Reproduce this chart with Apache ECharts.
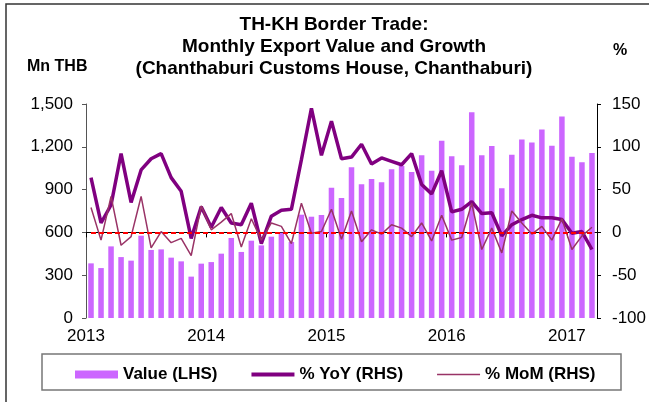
<!DOCTYPE html>
<html>
<head>
<meta charset="utf-8">
<script src="https://cdn.jsdelivr.net/npm/echarts@6/dist/echarts.min.js"></script>
<style>
  html, body { margin: 0; padding: 0; background: #fff; }
  #chart { width: 649px; height: 402px; }
</style>
</head>
<body>
<div id="chart"></div>
<script>
// months, Jan 2013 .. Mar 2017
const months = [
    '2013-01', '2013-02', '2013-03', '2013-04', '2013-05', '2013-06', '2013-07', '2013-08', '2013-09', '2013-10', '2013-11', '2013-12',
    '2014-01', '2014-02', '2014-03', '2014-04', '2014-05', '2014-06', '2014-07', '2014-08', '2014-09', '2014-10', '2014-11', '2014-12',
    '2015-01', '2015-02', '2015-03', '2015-04', '2015-05', '2015-06', '2015-07', '2015-08', '2015-09', '2015-10', '2015-11', '2015-12',
    '2016-01', '2016-02', '2016-03', '2016-04', '2016-05', '2016-06', '2016-07', '2016-08', '2016-09', '2016-10', '2016-11', '2016-12',
    '2017-01', '2017-02', '2017-03'
];
const yearLabels = ['2013', '2014', '2015', '2016', '2017'];

// export value, Mn THB (LHS)
const exportValue = [
    383, 350, 502, 427, 402, 577, 477, 481, 423, 397, 290, 381,
    392, 451, 561, 463, 542, 509, 570, 598, 533, 724, 710, 722,
    913, 841, 1056, 937, 974, 951, 1042, 1065, 1023, 1140, 1033, 1243,
    1133, 1070, 1442, 1140, 1206, 909, 1145, 1252, 1231, 1322, 1208, 1413,
    1131, 1091, 1156
];

// % YoY (RHS)
const yoy = [
    64, 11, 32, 92, 35, 73, 86, 92, 64, 48, -7, 30,
    6, 29, 11, 9, 34, -13, 19, 26, 27, 85, 145, 90,
    130, 86, 88, 103, 80, 87, 83, 79, 92, 56, 45, 72,
    24, 27, 36, 22, 23, -4, 9, 15, 20, 17, 17, 15,
    -1, 1, -20
];

// % MoM (RHS)
const mom = [
    29, -9, 42, -15, -5, 42, -18, 1, -12, -7, -27, 31,
    3, 12, 22, -17, 16, -9, 11, 7, -13, 34, -1, 1,
    27, -8, 25, -11, 3, -2, 9, 5, -5, 11, -10, 20,
    -9, -6, 34, -20, 5, -24, 25, 11, -2, 7, -9, 16,
    -20, -4, 6
];

const FONT = '"Liberation Sans", Arial, sans-serif';

const chart = echarts.init(document.querySelector('#chart'));
chart.setOption({
    animation: false,
    grid: {
        left: 86,
        right: 52,
        top: 104,
        bottom: 84,
    },
    legend: {
        left: 70,
        top: 361,
        itemWidth: 43,
        itemHeight: 8,
        itemGap: 34,
        textStyle: {
            fontFamily: FONT,
            fontSize: 17,
            fontWeight: 'bold',
            color: '#000',
        },
        data: [
            { name: 'Value (LHS)', icon: 'rect' },
            { name: '% YoY (RHS)', icon: 'path://M0,0H43V4H0Z' },
            { name: '% MoM (RHS)', icon: 'path://M0,0H43V1.6H0Z' },
        ],
    },
    xAxis: [
        {
            type: 'category',
            position: 'bottom',
            data: months,
            show: false,
        },
        {
            // year ticks sit on the month boundaries
            type: 'value',
            position: 'bottom',
            min: 0,
            max: months.length,
            interval: 12,
            axisLine: { lineStyle: { color: '#000', width: 1 } },
            axisTick: { show: true, length: 5, lineStyle: { color: '#000' } },
            splitLine: { show: false },
            axisLabel: {
                margin: 10,
                color: '#000',
                fontFamily: FONT,
                fontSize: 17,
                showMaxLabel: false,
                formatter: v => (v % 12 === 0 ? yearLabels[v / 12] : ''),
            },
        },
    ],
    yAxis: [
        {
            type: 'value',
            position: 'left',
            min: 0,
            max: 1500,
            interval: 300,
            axisLine: { show: true, lineStyle: { color: '#555' } },
            axisTick: { show: true, length: 4, lineStyle: { color: '#555' } },
            splitLine: { show: false },
            axisLabel: {
                margin: 13,
                color: '#000',
                fontFamily: FONT,
                fontSize: 17,
                formatter: v => v.toLocaleString('en-US'),
            },
        },
        {
            type: 'value',
            position: 'right',
            min: -100,
            max: 150,
            interval: 50,
            axisLine: { show: true, lineStyle: { color: '#000' } },
            axisTick: { show: true, length: 4, lineStyle: { color: '#000' } },
            splitLine: { show: false },
            axisLabel: {
                margin: 15,
                color: '#000',
                fontFamily: FONT,
                fontSize: 17,
            },
        },
    ],
    series: [
        {
            name: 'Value (LHS)',
            type: 'bar',
            xAxisIndex: 0,
            yAxisIndex: 0,
            data: exportValue,
            barWidth: '55%',
            itemStyle: { color: '#cc66ff' },
        },
        {
            name: '% YoY (RHS)',
            type: 'line',
            xAxisIndex: 0,
            yAxisIndex: 1,
            data: yoy,
            symbol: 'none',
            color: '#800080',
            lineStyle: { width: 3.5, color: '#800080' },
        },
        {
            name: '% MoM (RHS)',
            type: 'line',
            xAxisIndex: 0,
            yAxisIndex: 1,
            data: mom,
            symbol: 'none',
            color: '#993366',
            lineStyle: { width: 1.5, color: '#993366' },
            markLine: {
                silent: true,
                symbol: 'none',
                label: { show: false },
                lineStyle: { color: '#ff0000', width: 2, type: [5, 3] },
                data: [[
                    { coord: [months[0], 0] },
                    { coord: [months[months.length - 1], 0] },
                ]],
            },
        },
    ],
    graphic: [
        {
            // outer frame
            type: 'rect',
            shape: { x: 6, y: 4, width: 700, height: 500 },
            style: { fill: 'none', stroke: '#333', lineWidth: 1.5 },
            silent: true,
        },
        {
            // legend box
            type: 'rect',
            shape: { x: 42, y: 354, width: 579, height: 36 },
            style: { fill: 'none', stroke: '#777', lineWidth: 1.5 },
            silent: true,
        },
        {
            type: 'text',
            x: 334,
            y: 14,
            style: {
                text: 'TH-KH Border Trade:\nMonthly Export Value and Growth\n(Chanthaburi Customs House, Chanthaburi)',
                align: 'center',
                verticalAlign: 'top',
                fontFamily: FONT,
                fontSize: 19,
                fontWeight: 'bold',
                lineHeight: 22,
                fill: '#000',
            },
        },
        {
            type: 'text',
            x: 27,
            y: 67,
            style: {
                text: 'Mn THB',
                verticalAlign: 'middle',
                fontFamily: FONT,
                fontSize: 16,
                fontWeight: 'bold',
                fill: '#000',
            },
        },
        {
            type: 'text',
            x: 613,
            y: 51,
            style: {
                text: '%',
                verticalAlign: 'middle',
                fontFamily: FONT,
                fontSize: 16,
                fontWeight: 'bold',
                fill: '#000',
            },
        },
    ],
});
</script>
</body>
</html>
